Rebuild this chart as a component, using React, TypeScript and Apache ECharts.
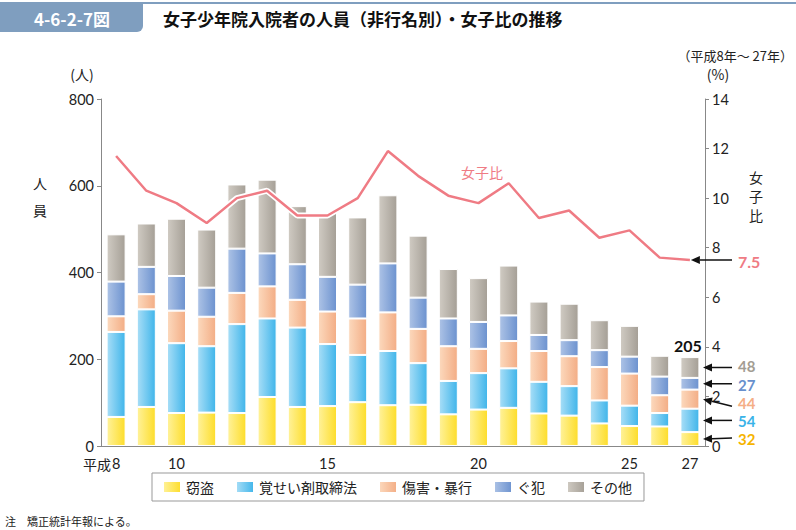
import React, { useEffect, useRef } from "react";
import * as echarts from "echarts";

const years = ["8", "9", "10", "11", "12", "13", "14", "15", "16", "17", "18", "19", "20", "21", "22", "23", "24", "25", "26", "27"];
const shownYears = ["8", "10", "15", "20", "25", "27"];
const theft = [67, 90, 76, 77, 76, 113, 90, 92, 101, 94, 95, 73, 84, 88, 75, 70, 52, 46, 45, 32];
const stimulant = [196, 225, 161, 153, 205, 181, 183, 143, 109, 125, 96, 77, 84, 91, 73, 68, 53, 47, 31, 54];
const injury = [36, 35, 75, 68, 72, 74, 64, 75, 84, 89, 79, 80, 56, 63, 71, 69, 77, 74, 41, 44];
const guhan = [80, 63, 80, 67, 102, 76, 82, 80, 78, 113, 72, 64, 62, 59, 37, 37, 39, 39, 43, 27];
const other = [109, 100, 132, 134, 148, 170, 134, 148, 155, 157, 143, 114, 101, 115, 77, 84, 69, 71, 48, 48];
const femaleRatio = [11.7, 10.3, 9.8, 9.0, 10.0, 10.3, 9.3, 9.3, 10.0, 11.9, 10.9, 10.1, 9.8, 10.6, 9.2, 9.5, 8.4, 8.7, 7.6, 7.5];
const seriesNames = ["窃盗", "覚せい剤取締法", "傷害・暴行", "ぐ犯", "その他"];
const leftTicks = [0, 800, 200];
const rightTicks = [0, 14, 2];

const FONT = "'Noto Sans CJK JP', 'Noto Sans', sans-serif";
const NUM = "Lato, 'Noto Sans', sans-serif";

export default function App() {
  const ref = useRef<HTMLDivElement>(null);
  useEffect(() => {
    const chart = echarts.init(ref.current!, null, { renderer: "svg" });
    const grad = (a: string, b: string) =>
      new echarts.graphic.LinearGradient(0, 0, 1, 0, [
        { offset: 0, color: a },
        { offset: 1, color: b },
      ]);
    const colors = [
      grad("#fff29a", "#fddd2a"),
      grad("#a8def7", "#40b5ea"),
      grad("#fcd9bd", "#f3ad85"),
      grad("#adc3e6", "#6c92cf"),
      grad("#d0cbc3", "#a59f96"),
    ];
    const data = [theft, stimulant, injury, guhan, other];
    const barSeries = data.map((d, i) => ({
      name: seriesNames[i],
      type: "bar",
      stack: "total",
      barWidth: 19,
      yAxisIndex: 0,
      data: d,
      itemStyle: { color: colors[i], borderColor: "#ffffff", borderWidth: 1 },
    }));
    const numLabel = { color: "#222", fontSize: 14.5, lineHeight: 14, fontFamily: NUM };
    const option: any = {
      animation: false,
      textStyle: { fontFamily: FONT },
      grid: { left: 101, right: 91, top: 99, bottom: 84 },
      legend: {
        data: seriesNames,
        left: 152,
        top: 473,
        padding: [7, 12, 7, 10],
        borderColor: "#999",
        borderWidth: 1,
        itemWidth: 18,
        itemHeight: 12,
        itemGap: 21,
        icon: "rect",
        textStyle: { fontSize: 14, color: "#222", fontFamily: FONT },
      },
      xAxis: {
        type: "category",
        data: years,
        axisLine: { lineStyle: { color: "#888", width: 1 } },
        axisTick: { show: false },
        axisLabel: {
          ...numLabel,
          interval: (idx: number, val: string) => shownYears.includes(val),
          margin: 10,
        },
      },
      yAxis: [
        {
          type: "value",
          min: leftTicks[0],
          max: leftTicks[1],
          interval: leftTicks[2],
          splitLine: { show: false },
          axisLine: { show: true, lineStyle: { color: "#888" } },
          axisTick: { show: true, length: 4, lineStyle: { color: "#888" } },
          axisLabel: { ...numLabel, margin: 7 },
        },
        {
          type: "value",
          min: rightTicks[0],
          max: rightTicks[1],
          interval: rightTicks[2],
          splitLine: { show: false },
          axisLine: { show: true, lineStyle: { color: "#888" } },
          axisTick: { show: true, length: 4, lineStyle: { color: "#888" } },
          axisLabel: { ...numLabel, margin: 7 },
        },
      ],
      series: [
        ...barSeries,
        {
          name: "女子比白",
          type: "line",
          yAxisIndex: 1,
          data: femaleRatio,
          symbol: "none",
          lineStyle: { color: "#ffffff", width: 6 },
          z: 3,
          silent: true,
        },
        {
          name: "女子比",
          type: "line",
          yAxisIndex: 1,
          data: femaleRatio,
          symbol: "none",
          lineStyle: { color: "#ef7b84", width: 2.5 },
          z: 4,
        },
      ],
    };
    chart.setOption(option);

    const yL = (v: number) => chart.convertToPixel({ yAxisIndex: 0 }, v) as number;
    const yR = (v: number) => chart.convertToPixel({ yAxisIndex: 1 }, v) as number;
    const xC = (i: number) => chart.convertToPixel({ xAxisIndex: 0 }, i) as number;
    const last = years.length - 1;
    const axisRightX = 705;

    const arrow = (x1: number, y1: number, x2: number, y2: number) => {
      const ang = Math.atan2(y2 - y1, x2 - x1);
      const L = 9, W = 4;
      const bx = x2 - L * Math.cos(ang), by = y2 - L * Math.sin(ang);
      const px = -Math.sin(ang) * W, py = Math.cos(ang) * W;
      return [
        { type: "line", shape: { x1, y1, x2: bx, y2: by }, style: { stroke: "#111", lineWidth: 1.5 }, z: 10 },
        {
          type: "polygon",
          shape: { points: [[x2, y2], [bx + px, by + py], [bx - px, by - py]] },
          style: { fill: "#111" },
          z: 10,
        },
      ];
    };

    const g: any[] = [];
    // title
    g.push({ type: "rect", shape: { x: 0, y: 2, width: 796, height: 2 }, style: { fill: "#7f9ebf" } });
    g.push({ type: "rect", shape: { x: 0, y: 2, width: 143, height: 30, r: [0, 0, 6, 0] }, style: { fill: "#7f9ebf" } });
    g.push({
      type: "text", x: 72, y: 18,
      style: { text: "4-6-2-7図", fill: "#fff", font: `bold 17px ${FONT}`, align: "center", verticalAlign: "middle" },
    });
    g.push({
      type: "text", x: 163, y: 18,
      style: { text: "女子少年院入院者の人員（非行名別）・女子比の推移", fill: "#111", font: `bold 17px ${FONT}`, verticalAlign: "middle" },
    });
    g.push({
      type: "text", x: 793, y: 55,
      style: { text: "（平成8年～ 27年）", fill: "#222", font: `13px ${FONT}`, align: "right", verticalAlign: "middle" },
    });
    g.push({ type: "text", x: 82, y: 74, style: { text: "(人)", fill: "#222", font: `14px ${FONT}`, align: "center", verticalAlign: "middle" } });
    g.push({ type: "text", x: 718, y: 74, style: { text: "(%)", fill: "#222", font: `14px ${FONT}`, align: "center", verticalAlign: "middle" } });
    g.push({ type: "text", x: 40, y: 183, style: { text: "人", fill: "#222", font: `14px ${FONT}`, align: "center", verticalAlign: "middle" } });
    g.push({ type: "text", x: 40, y: 210, style: { text: "員", fill: "#222", font: `14px ${FONT}`, align: "center", verticalAlign: "middle" } });
    ["女", "子", "比"].forEach((c, i) =>
      g.push({
        type: "text", x: 756, y: 177 + i * 19,
        style: { text: c, fill: "#222", font: `14px ${FONT}`, lineHeight: 14, align: "center", verticalAlign: "middle" },
      })
    );
    g.push({
      type: "text", x: xC(0) - 5, y: 464,
      style: { text: "平成", fill: "#222", font: `14px ${FONT}`, lineHeight: 14, align: "right", verticalAlign: "middle" },
    });
    g.push({ type: "text", x: 482, y: 172, style: { text: "女子比", fill: "#ef7b84", font: `14px ${FONT}`, align: "center", verticalAlign: "middle" } });
    g.push({ type: "text", x: 5, y: 521, style: { text: "注　矯正統計年報による。", fill: "#222", font: `11px ${FONT}`, verticalAlign: "middle" } });

    // total label
    const total = data.reduce((s, d) => s + d[last], 0);
    g.push({
      type: "text", x: xC(last) + 12, y: yL(total) - 12,
      style: { text: String(total), fill: "#111", font: `bold 16px ${NUM}`, align: "right", verticalAlign: "middle" },
    });

    // female ratio arrow
    const ry = yR(femaleRatio[last]);
    g.push(...arrow(732, ry, xC(last) + 1, ry));
    g.push({ type: "text", x: 738, y: ry + 1, style: { text: String(femaleRatio[last]), fill: "#ef7b84", font: `bold 16px ${NUM}`, verticalAlign: "middle" } });

    // segment arrows
    const labelColors = ["#f6b400", "#3ab3e8", "#f5ae86", "#6890cd", "#a39d93"];
    const labelOffset = [0, 1, 4, 1, -1.5];
    const tailOffset = [-1, 0, 7, 0, 0];
    let cum = 0;
    data.forEach((d, i) => {
      const v = d[last];
      const mid = yL(cum + v / 2);
      cum += v;
      g.push(...arrow(732, mid + tailOffset[i], axisRightX - 2, mid));
      g.push({
        type: "text", x: 738, y: mid + labelOffset[i],
        style: { text: String(v), fill: labelColors[i], font: `bold 15px ${NUM}`, lineHeight: 13, verticalAlign: "middle" },
      });
    });

    chart.setOption({ graphic: g });
    return () => chart.dispose();
  }, []);
  return <div ref={ref} style={{ position: "fixed", left: 0, top: 0, width: 796, height: 530, background: "#fff" }} />;
}
